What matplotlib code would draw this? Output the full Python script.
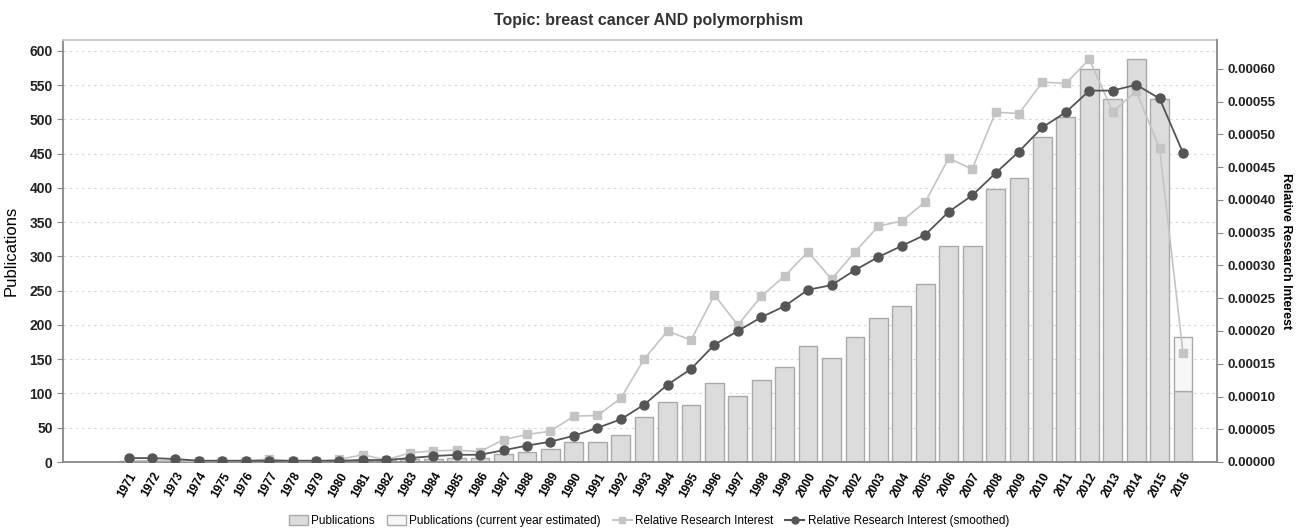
import matplotlib.pyplot as plt
import numpy as np
from matplotlib.patches import Patch
from matplotlib.lines import Line2D

plt.rcParams['font.family'] = ['Liberation Sans', 'DejaVu Sans']

years = list(range(1971, 2017))

# publications per year (bars), 2016 is the partial current year
publications = [1, 1, 1, 1, 1, 1, 1, 1, 1, 2, 3, 3, 5, 5, 6, 6, 12, 15, 19, 29,
                29, 40, 65, 87, 83, 115, 96, 119, 139, 169, 152, 183, 210, 227, 260, 316,
                315, 398, 415, 475, 503, 574, 530, 588, 530, 103]
# estimated total for the current year (2016)
estimated_2016 = 182

relative_interest = [0.000002, 0.000002, 0.000002, 0.000001, 0.000001, 0.000001, 0.000005, 0.000001,
                     0.000001, 0.000004, 0.000011, 0.000003, 0.000014, 0.000017, 0.000018, 0.000016,
                     0.000034, 0.000042, 0.000047, 0.000070, 0.000071, 0.000097, 0.000157, 0.000200,
                     0.000186, 0.000255, 0.000209, 0.000253, 0.000284, 0.000321, 0.000279, 0.000321,
                     0.000360, 0.000368, 0.000397, 0.000464, 0.000447, 0.000534, 0.000532, 0.000580,
                     0.000578, 0.000615, 0.000535, 0.000566, 0.000479, 0.000166]

relative_smoothed = [0.000006, 0.000006, 0.0000045, 0.000002, 0.000002, 0.000002, 0.000002, 0.000002,
                     0.000002, 0.000002, 0.000003, 0.000003, 0.000006, 0.000009, 0.000011, 0.000011,
                     0.000018, 0.000025, 0.000031, 0.000040, 0.000052, 0.000065, 0.0000875, 0.000118,
                     0.000142, 0.000179, 0.000200, 0.000221, 0.000238, 0.000263, 0.000270, 0.000293,
                     0.000313, 0.000330, 0.000347, 0.000382, 0.000407, 0.000441, 0.000474, 0.000511,
                     0.000534, 0.000567, 0.000567, 0.000576, 0.000555, 0.000472]

x = np.array(years)

fig = plt.figure(figsize=(12.98, 5.31), dpi=100)
ax = fig.add_axes([63 / 1298, 1 - 462 / 531, (1217 - 63) / 1298, (462 - 40) / 531])

bar_face = '#dcdcdc'
bar_edge = '#a9a9a9'
ax.bar(x, publications, width=0.8, color=bar_face, edgecolor=bar_edge, linewidth=1, zorder=2)
# estimated remainder for the current year
ax.bar(x[-1], estimated_2016 - publications[-1], bottom=publications[-1], width=0.8,
       color='#f7f7f7', edgecolor=bar_edge, linewidth=1, zorder=2)

ax.set_xlim(1968.2, 2017.45)
ax.set_ylim(0, 616)
ax.set_yticks(range(0, 601, 50))
ax.yaxis.grid(True, linestyle=(0, (2.5, 3)), color='#dadada', linewidth=0.8, zorder=0)
ax.set_axisbelow(True)
ax.set_xticks(x)
ax.set_xticklabels([str(y) for y in years], rotation=60, ha='right', rotation_mode='anchor',
                   fontsize=8.5, fontweight='bold')
ax.tick_params(axis='x', length=0, pad=6)
ax.tick_params(axis='y', labelsize=10, colors='#888888', labelcolor='#222222', length=4)
for lab in ax.get_yticklabels():
    lab.set_fontweight('bold')
ax.set_ylabel('Publications', fontsize=12, labelpad=8)

for side in ['left', 'bottom']:
    ax.spines[side].set_color('#888888')
    ax.spines[side].set_linewidth(1.3)
ax.spines['top'].set_color('#c8c8c8')
ax.spines['top'].set_linewidth(1.3)
ax.spines['right'].set_visible(False)

ax2 = ax.twinx()
ax2.plot(x, relative_interest, color='#c4c4c4', linewidth=1.2, marker='s', markersize=6,
         markerfacecolor='#c4c4c4', markeredgecolor='#c4c4c4', zorder=3)
ax2.plot(x, relative_smoothed, color='#555555', linewidth=1.3, marker='o', markersize=6.5,
         markerfacecolor='#555555', markeredgecolor='#555555', zorder=4)
ax2.set_ylim(0, 0.0006 * 422 / 393)
ax2.set_yticks(np.arange(0, 0.00061, 0.00005))
ax2.set_yticklabels(['%.5f' % v for v in np.arange(0, 0.00061, 0.00005)], fontsize=9.5,
                    fontweight='bold')
ax2.tick_params(axis='y', colors='#888888', labelcolor='#222222', length=4)
ax2.set_ylabel('Relative Research Interest', fontsize=9, fontweight='bold', rotation=-90,
               labelpad=12)
ax2.spines['right'].set_color('#888888')
ax2.spines['right'].set_linewidth(1.3)
for side in ['left', 'top', 'bottom']:
    ax2.spines[side].set_visible(False)

fig.text(0.5, 1 - 20 / 531, 'Topic: breast cancer AND polymorphism', ha='center', va='center',
         fontsize=11.5, fontweight='bold', color='#333333')

handles = [
    Patch(facecolor=bar_face, edgecolor=bar_edge, label='Publications'),
    Patch(facecolor='#f7f7f7', edgecolor=bar_edge, label='Publications (current year estimated)'),
    Line2D([], [], color='#c4c4c4', marker='s', markersize=5, label='Relative Research Interest'),
    Line2D([], [], color='#555555', marker='o', markersize=5, label='Relative Research Interest (smoothed)'),
]
fig.legend(handles=handles, loc='center', bbox_to_anchor=(0.5, 1 - 521 / 531), ncol=4,
           frameon=False, fontsize=8.5, handlelength=1.6, handleheight=1.0,
           handletextpad=0.3, columnspacing=1.0)

fig.savefig('out.png', dpi=100)
